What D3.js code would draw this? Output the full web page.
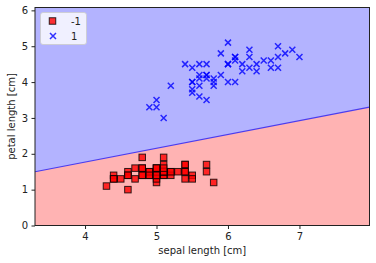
<!DOCTYPE html>
<html><head><meta charset="utf-8">
<script src="https://cdn.jsdelivr.net/npm/d3@7"></script>
<style>body{margin:0;background:#fff}svg{display:block;font-family:"DejaVu Sans",sans-serif}</style>
</head><body><svg id="c" width="376" height="263"></svg>
<script>
// Iris setosa (-1) : sepal length, petal length
const setosaSepal = [5.1,4.9,4.7,4.6,5.0,5.4,4.6,5.0,4.4,4.9,5.4,4.8,4.8,4.3,5.8,5.7,5.4,5.1,5.7,5.1,5.4,5.1,4.6,5.1,4.8,5.0,5.0,5.2,5.2,4.7,4.8,5.4,5.2,5.5,4.9,5.0,5.5,4.9,4.4,5.1,5.0,4.5,4.4,5.0,5.1,4.8,5.1,4.6,5.3,5.0];
const setosaPetal = [1.4,1.4,1.3,1.5,1.4,1.7,1.4,1.5,1.4,1.5,1.5,1.6,1.4,1.1,1.2,1.5,1.3,1.4,1.7,1.5,1.7,1.5,1.0,1.7,1.9,1.6,1.6,1.5,1.4,1.6,1.6,1.5,1.5,1.4,1.5,1.2,1.3,1.4,1.3,1.5,1.3,1.3,1.3,1.6,1.9,1.4,1.6,1.4,1.5,1.4];
// Iris versicolor (1)
const versiSepal = [7.0,6.4,6.9,5.5,6.5,5.7,6.3,4.9,6.6,5.2,5.0,5.9,6.0,6.1,5.6,6.7,5.6,5.8,6.2,5.6,5.9,6.1,6.3,6.1,6.4,6.6,6.8,6.7,6.0,5.7,5.5,5.5,5.8,6.0,5.4,6.0,6.7,6.3,5.6,5.5,5.5,6.1,5.8,5.0,5.6,5.7,5.7,6.2,5.1,5.7];
const versiPetal = [4.7,4.5,4.9,4.0,4.6,4.5,4.7,3.3,4.6,3.9,3.5,4.2,4.0,4.7,3.6,4.4,4.5,4.1,4.5,3.9,4.8,4.0,4.9,4.7,4.3,4.4,4.8,5.0,4.5,3.5,3.8,3.7,3.9,5.1,4.5,4.5,4.7,4.4,4.1,4.0,4.4,4.6,4.0,3.3,4.2,4.2,4.2,4.3,3.0,4.1];
// decision boundary: petal = b0 + b1 * sepal
const boundary = [1.5 - 0.385*3.3, 0.385];
const xTicks = [4,5,6,7];
const yTicks = [0,1,2,3,4,5,6];
const xDomain = [3.3, 7.98];
const yDomain = [0, 6.08];
const legendLabels = ["-1","1"];

const svg = d3.select("#c");
const L=35, R=369.5, T=7.5, B=225.5;
const x = d3.scaleLinear().domain(xDomain).range([L,R]);
const y = d3.scaleLinear().domain(yDomain).range([B,T]);
const fb = v => boundary[0] + boundary[1]*v;

// regions
svg.append("rect").attr("x",L).attr("y",T).attr("width",R-L).attr("height",B-T).attr("fill","#b3b3ff");
const redPoly = [[xDomain[0],fb(xDomain[0])],[xDomain[1],fb(xDomain[1])],[xDomain[1],yDomain[0]],[xDomain[0],yDomain[0]]];
svg.append("path").attr("d", d3.line().x(d=>x(d[0])).y(d=>y(d[1]))(redPoly)+"Z").attr("fill","#ffb3b3");
svg.append("line").attr("x1",x(xDomain[0])).attr("y1",y(fb(xDomain[0]))).attr("x2",x(xDomain[1])).attr("y2",y(fb(xDomain[1])))
  .attr("stroke","#4a3cf0").attr("stroke-width",1.2);

// points
const sq = 6.5;
svg.append("g").selectAll("rect").data(d3.range(setosaSepal.length)).join("rect")
  .attr("x",i=>x(setosaSepal[i])-sq/2).attr("y",i=>y(setosaPetal[i])-sq/2).attr("width",sq).attr("height",sq)
  .attr("fill","rgba(255,0,0,0.8)").attr("stroke","rgba(0,0,0,0.8)").attr("stroke-width",1);
const xs = 3;
const xg = svg.append("g");
versiSepal.forEach((v,i)=>{
  const cx=x(v), cy=y(versiPetal[i]);
  xg.append("path").attr("d",`M${cx-xs},${cy-xs}L${cx+xs},${cy+xs}M${cx-xs},${cy+xs}L${cx+xs},${cy-xs}`)
    .attr("stroke","blue").attr("stroke-opacity",0.8).attr("stroke-width",1.5).attr("fill","none");
});

// axes frame
svg.append("rect").attr("x",L).attr("y",T).attr("width",R-L).attr("height",B-T).attr("fill","none").attr("stroke","#222").attr("stroke-width",1);

const xa = svg.append("g").attr("transform",`translate(0,${B})`).call(d3.axisBottom(x).tickValues(xTicks).tickSize(3.5).tickPadding(3.5).tickFormat(d3.format("d")));
const ya = svg.append("g").attr("transform",`translate(${L},0)`).call(d3.axisLeft(y).tickValues(yTicks).tickSize(3.5).tickPadding(3.5).tickFormat(d3.format("d")));
[xa,ya].forEach(a=>{a.select(".domain").remove();a.selectAll("text").attr("font-size",10).attr("fill","#222").attr("font-family","DejaVu Sans");a.selectAll("line").attr("stroke","#222");});

svg.append("text").attr("x",(L+R)/2).attr("y",254).attr("text-anchor","middle").attr("font-size",10).attr("fill","#222").text("sepal length [cm]");
svg.append("text").attr("transform",`translate(15,${(T+B)/2}) rotate(-90)`).attr("text-anchor","middle").attr("font-size",10).attr("fill","#222").text("petal length [cm]");

// legend
const lg = svg.append("g");
lg.append("rect").attr("x",40.5).attr("y",12.5).attr("width",46).attr("height",32).attr("rx",2.5)
  .attr("fill","rgba(255,255,255,0.8)").attr("stroke","#ccc").attr("stroke-width",0.8);
lg.append("rect").attr("x",51.5-sq/2+1).attr("y",21-sq/2).attr("width",sq).attr("height",sq)
  .attr("fill","rgba(255,0,0,0.8)").attr("stroke","rgba(0,0,0,0.8)");
const lx=53, ly=36;
lg.append("path").attr("d",`M${lx-xs},${ly-xs}L${lx+xs},${ly+xs}M${lx-xs},${ly+xs}L${lx+xs},${ly-xs}`).attr("stroke","blue").attr("stroke-opacity",0.8).attr("stroke-width",1.5);
lg.selectAll("text.l").data(legendLabels).join("text").attr("class","l").attr("x",71).attr("y",(d,i)=>25+i*14.5).attr("font-size",10).attr("fill","#222").text(d=>d);
</script></body></html>
